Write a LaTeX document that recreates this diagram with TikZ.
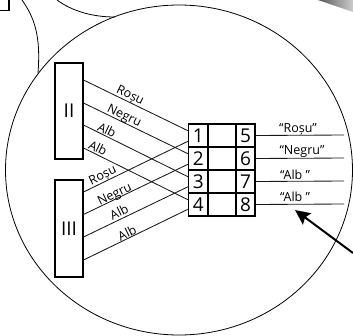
\documentclass[tikz,border=0pt]{standalone}
\usepackage{fontspec}
\setmainfont{Open Sans}
\usetikzlibrary{arrows.meta}
\tikzset{
  px/.style={x=1pt,y=-1pt},
  thin line/.style={draw=black,line width=0.8pt},
  wire/.style={draw=black!90,line width=0.85pt},
  block/.style={draw=black,line width=1.6pt,fill=white,rectangle,inner sep=0pt,font=\fontsize{19}{19}\selectfont},
  cell/.style={draw=black,line width=1.4pt,rectangle,inner sep=0pt,minimum width=#1,minimum height=23pt,font=\fontsize{19}{19}\selectfont},
  lab/.style={font=\fontsize{12.5}{13}\selectfont,inner sep=0pt,text=black},
}
\begin{document}
\begin{tikzpicture}[px]
\useasboundingbox (0,0) rectangle (353,335);
\begin{scope}
\clip (0,0) rectangle (353,335);
% gradient fragment, top right
\shade[left color=black!65,right color=black!20] (318,0) -- (353,12) -- (353,0) -- cycle;
% upper left fragments
\draw[line width=1.5pt] (0,10.5) -- (9,10.5) -- (9,0);
\draw[thin line] (22,0) .. controls (34,17) and (41,35) .. (38,73);
\draw[thin line] (57,0) .. controls (72,11) and (92,17) .. (115,17);
% lens circle
\draw[thin line] (179,170) ellipse [x radius=173.5,y radius=165];
\end{scope}
% blocks
\node[block,minimum width=28.5pt,minimum height=96pt] (II) at (69,111) {II};
\node[block,minimum width=28.5pt,minimum height=97pt] (III) at (69,228.5) {III};
% terminal cells
\node[cell=19.5pt] (c1) at (198.2,135.5) {1};
\node[cell=19.5pt] (c2) at (198.2,158.5) {2};
\node[cell=19.5pt] (c3) at (198.2,181.5) {3};
\node[cell=19.5pt] (c4) at (198.2,204.5) {4};
\node[cell=28pt] (m1) at (222,135.5) {};
\node[cell=28pt] (m2) at (222,158.5) {};
\node[cell=28pt] (m3) at (222,181.5) {};
\node[cell=28pt] (m4) at (222,204.5) {};
\node[cell=19pt] (c5) at (245.5,135.5) {5\hspace{3pt}};
\node[cell=19pt] (c6) at (245.5,158.5) {6\hspace{3pt}};
\node[cell=19pt] (c7) at (245.5,181.5) {7\hspace{3pt}};
\node[cell=19pt] (c8) at (245.5,204.5) {8\hspace{3pt}};
% wire ends
\foreach \n/\y in {a/80,b/103,c/125,d/148}{\coordinate (\n) at (83.5,\y);}
\foreach \n/\y in {e/192,f/214.5,g/237,h/260}{\coordinate (\n) at (83.5,\y);}
\foreach \n/\y in {p1/131,p2/154,p3/177,p4/200,q1/141,q2/164,q3/186.5,q4/209}{\coordinate (\n) at (188.5,\y);}
\foreach \n/\y in {r1/135,r2/158,r3/181,r4/204}{\coordinate (\n) at (344,\y);}
\draw[wire] (a) -- (p1);
\draw[wire] (b) -- (p2);
\draw[wire] (c) -- (p3);
\draw[wire] (d) -- (p4);
\draw[wire] (e) -- (q1);
\draw[wire] (f) -- (q2);
\draw[wire] (g) -- (q3);
\draw[wire] (h) -- (q4);
\draw[wire] (c5.east) -- (r1);
\draw[wire] (c6.east) -- (r2);
\draw[wire] (c7.east) -- (r3);
\draw[wire] (c8.east) -- (r4);
% wire labels
\node[lab,rotate=-26] (l1) at (130,96) {Roșu};
\node[lab,rotate=-26] (l2) at (124,116.5) {Negru};
\node[lab,rotate=-26] (l3) at (107,130) {Alb};
\node[lab,rotate=-26] (l4) at (98,148) {Alb};
\node[lab,rotate=26] (l5) at (103,176) {Roșu};
\node[lab,rotate=26] (l6) at (115,195) {Negru};
\node[lab,rotate=26] (l7) at (119,212) {Alb};
\node[lab,rotate=26] (l8) at (127,233) {Alb};
\node[lab] (t1) at (298,129) {“Roșu”};
\node[lab] (t2) at (302,152) {“Negru”};
\node[lab] (t3) at (295,175) {“Alb ”};
\node[lab] (t4) at (295,197) {“Alb ”};
% pointer
\coordinate (ptail) at (353,253);
\coordinate (ptip) at (295,210);
\draw[line width=2pt,-{Stealth[length=15pt,width=14pt,inset=2.5pt]}] (ptail) -- (ptip);
\end{tikzpicture}
\end{document}
